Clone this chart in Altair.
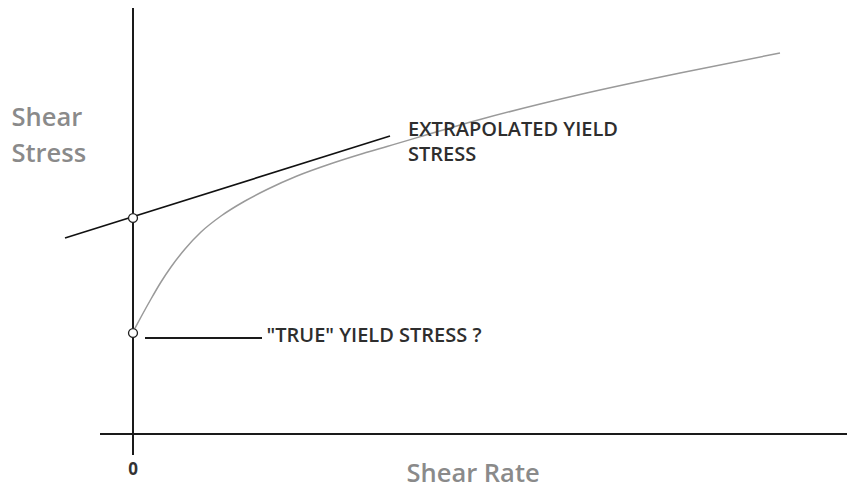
import altair as alt
import pandas as pd

# Flow curve (shear rate vs shear stress)
curve_rate = [0, 0.08, 0.18, 0.28, 0.38, 0.52, 0.68, 0.88, 1.12, 1.35, 1.64, 1.97, 2.30, 2.54, 3.47, 4.47, 5.47, 6.47]
curve_stress = [1.02, 1.17, 1.35, 1.52, 1.67, 1.85, 2.02, 2.18, 2.33, 2.45, 2.58, 2.70, 2.805, 2.875, 3.145, 3.395, 3.61, 3.81]

# Extrapolated linear part (tangent)
tangent_rate = [-0.68, 2.57]
tangent_stress = [1.96, 2.98]

# Yield stress markers on the stress axis
marker_rate = [0, 0]
marker_stress = [2.16, 1.01]

# Axis lines and the leader line
seg_x = [-0.33, 0, 0.12]
seg_x2 = [7.14, 0, 1.29]
seg_y = [0, -0.21, 0.96]
seg_y2 = [0, 4.26, 0.96]

# Labels
black_text = ["EXTRAPOLATED YIELD", "STRESS", "\"TRUE\" YIELD STRESS ?"]
black_x = [2.75, 2.75, 1.335]
black_y = [2.98, 2.73, 0.92]

gray_text = ["Shear", "Stress", "Shear Rate"]
gray_x = [-1.215, -1.215, 2.735]
gray_y = [3.08, 2.72, -0.475]

zero_text = ["0"]
zero_x = [0]
zero_y = [-0.355]

X_DOM = [-1.25, 7.14]
Y_DOM = [-0.54, 4.26]

xs = alt.Scale(domain=X_DOM, nice=False, zero=False)
ys = alt.Scale(domain=Y_DOM, nice=False, zero=False)

curve_df = pd.DataFrame({"rate": curve_rate, "stress": curve_stress})
tan_df = pd.DataFrame({"rate": tangent_rate, "stress": tangent_stress})
mark_df = pd.DataFrame({"rate": marker_rate, "stress": marker_stress})
seg_df = pd.DataFrame({"x": seg_x, "x2": seg_x2, "y": seg_y, "y2": seg_y2})
black_df = pd.DataFrame({"x": black_x, "y": black_y, "t": black_text})
gray_df = pd.DataFrame({"x": gray_x, "y": gray_y, "t": gray_text})
zero_df = pd.DataFrame({"x": zero_x, "y": zero_y, "t": zero_text})

curve = alt.Chart(curve_df).mark_line(color="#9a9a9a", strokeWidth=1.5, interpolate="monotone").encode(
    x=alt.X("rate:Q", scale=xs, axis=None),
    y=alt.Y("stress:Q", scale=ys, axis=None),
)

tangent = alt.Chart(tan_df).mark_line(color="#111111", strokeWidth=1.6).encode(
    x=alt.X("rate:Q", scale=xs, axis=None),
    y=alt.Y("stress:Q", scale=ys, axis=None),
)

segs = alt.Chart(seg_df).mark_rule(color="#1a1a1a", strokeWidth=2).encode(
    x=alt.X("x:Q", scale=xs, axis=None),
    x2="x2:Q",
    y=alt.Y("y:Q", scale=ys, axis=None),
    y2="y2:Q",
)

markers = alt.Chart(mark_df).mark_point(shape="circle", size=80, filled=False, color="#222222",
                                        strokeWidth=1.3, fill="white", fillOpacity=1).encode(
    x=alt.X("rate:Q", scale=xs, axis=None),
    y=alt.Y("stress:Q", scale=ys, axis=None),
)

black_lbl = alt.Chart(black_df).mark_text(align="left", baseline="alphabetic", font="Open Sans",
                                          fontSize=20, fontWeight=600, color="#2e2e2e").encode(
    x=alt.X("x:Q", scale=xs, axis=None),
    y=alt.Y("y:Q", scale=ys, axis=None),
    text="t:N",
)

gray_lbl = alt.Chart(gray_df).mark_text(align="left", baseline="alphabetic", font="Open Sans",
                                        fontSize=25.5, fontWeight=600, color="#8a8a8a").encode(
    x=alt.X("x:Q", scale=xs, axis=None),
    y=alt.Y("y:Q", scale=ys, axis=None),
    text="t:N",
)

zero_lbl = alt.Chart(zero_df).mark_text(align="center", baseline="middle", font="Open Sans",
                                        fontSize=17, fontWeight="bold", color="#333333").encode(
    x=alt.X("x:Q", scale=xs, axis=None),
    y=alt.Y("y:Q", scale=ys, axis=None),
    text="t:N",
)

chart = alt.layer(curve, tangent, segs, markers, black_lbl, gray_lbl, zero_lbl).properties(
    width=839, height=480, padding=0, autosize="none", background="white"
).configure_view(stroke=None)

chart.save("out.html", embed_options={"renderer": "svg", "actions": False})
